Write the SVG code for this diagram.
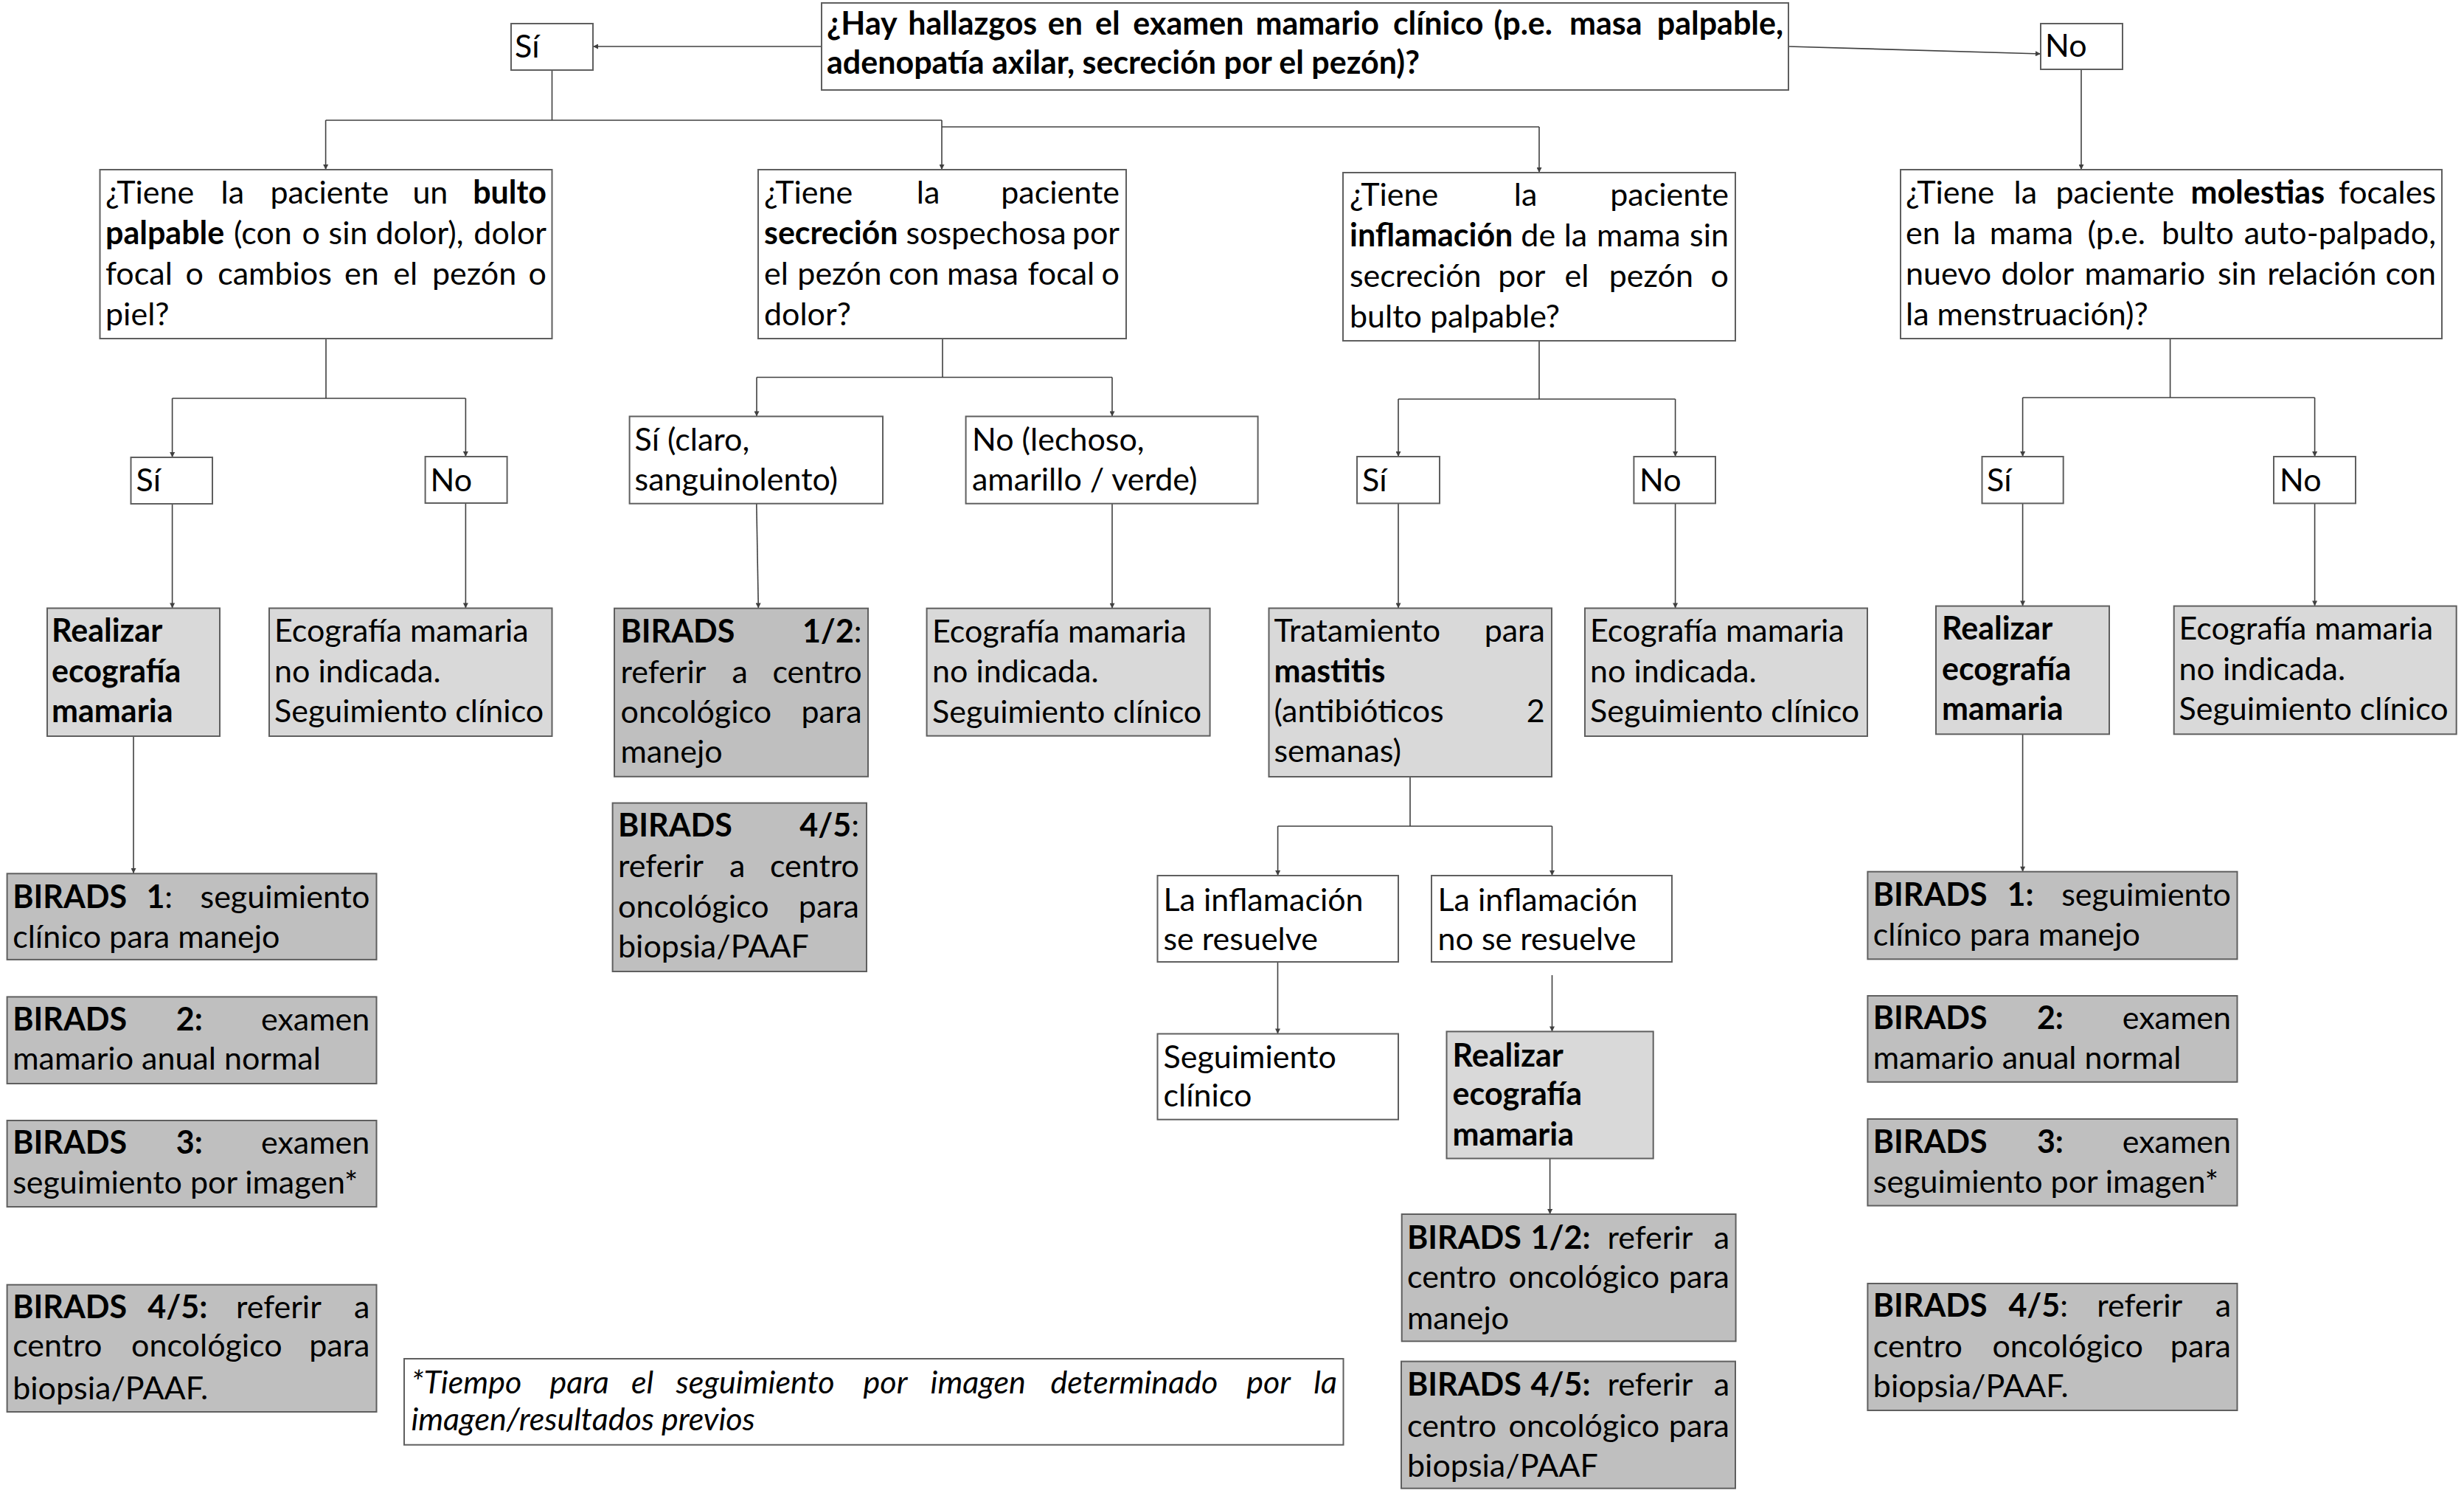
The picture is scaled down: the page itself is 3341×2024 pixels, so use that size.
<svg xmlns="http://www.w3.org/2000/svg" width="3341" height="2024" viewBox="0 0 3341 2024">
<defs>
<style>
text{font-family:Lato,"Liberation Sans",sans-serif;font-size:43px;fill:#000}
.b{font-weight:bold}
.it{font-style:italic}
.e{text-anchor:end}
rect.n{stroke:#5f5f5f;stroke-width:2}
.w{fill:#fff}.l{fill:#d9d9d9}.d{fill:#bfbfbf}
#connectors path{stroke:#404040;stroke-width:1.6;fill:none}
</style>
<marker id="ah" viewBox="0 0 10 10" refX="10" refY="5" markerWidth="8" markerHeight="7" markerUnits="userSpaceOnUse" orient="auto"><path d="M0,0 L10,5 L0,10 z" fill="#404040"/></marker>
</defs>
<rect width="3341" height="2024" fill="#fff"/>

<g id="connectors">
<path d="M1114,63 L804,63" marker-end="url(#ah)"/>
<path d="M2425,63 L2767,73" marker-end="url(#ah)"/>
<path d="M748.5,95 V163 M441.6,163 H1277"/>
<path d="M441.6,163 V230" marker-end="url(#ah)"/>
<path d="M1277,163 V230" marker-end="url(#ah)"/>
<path d="M1277,172 H2087"/>
<path d="M2087,172 V234" marker-end="url(#ah)"/>
<path d="M2822,94 V230" marker-end="url(#ah)"/>
<path d="M442,459 V540 M233.6,540 H631.4"/>
<path d="M233.6,540 V620" marker-end="url(#ah)"/>
<path d="M631.4,540 V619" marker-end="url(#ah)"/>
<path d="M233.6,683 V824.5" marker-end="url(#ah)"/>
<path d="M631.4,682 V824.5" marker-end="url(#ah)"/>
<path d="M181,998 V1184" marker-end="url(#ah)"/>
<path d="M1278,459 V511.5 M1026,511.5 H1508"/>
<path d="M1026,511.5 V564.5" marker-end="url(#ah)"/>
<path d="M1508,511.5 V564.5" marker-end="url(#ah)"/>
<path d="M1025.8,682.7 L1028.3,824.5" marker-end="url(#ah)"/>
<path d="M1508,682.7 V824.7" marker-end="url(#ah)"/>
<path d="M2087,462 V541 M1896,541 H2271.6"/>
<path d="M1896,541 V619" marker-end="url(#ah)"/>
<path d="M2271.6,541 V619" marker-end="url(#ah)"/>
<path d="M1896,682.4 V824.5" marker-end="url(#ah)"/>
<path d="M2271.6,682.4 V824.5" marker-end="url(#ah)"/>
<path d="M1912,1053 V1120 M1732.6,1120 H2104.5"/>
<path d="M1732.6,1120 V1187" marker-end="url(#ah)"/>
<path d="M2104.5,1120 V1187" marker-end="url(#ah)"/>
<path d="M1732.5,1304 V1401.5" marker-end="url(#ah)"/>
<path d="M2104.5,1322 V1398.4" marker-end="url(#ah)"/>
<path d="M2101.6,1570.5 V1646" marker-end="url(#ah)"/>
<path d="M2942.6,459 V539 M2742.6,539 H3138.6"/>
<path d="M2742.6,539 V619" marker-end="url(#ah)"/>
<path d="M3138.6,539 V619" marker-end="url(#ah)"/>
<path d="M2742.6,682.4 V821.6" marker-end="url(#ah)"/>
<path d="M3138.6,682.4 V821.6" marker-end="url(#ah)"/>
<path d="M2742.6,995.3 V1181.7" marker-end="url(#ah)"/>
</g>

<g id="q-main">
<rect class="n w" x="1114" y="4" width="1311" height="118"/>
<text class="b" y="47"><tspan x="1121">¿Hay</tspan><tspan x="1231.3">hallazgos</tspan><tspan x="1420.8">en</tspan><tspan x="1485.1">el</tspan><tspan x="1536.3">examen</tspan><tspan x="1702.5">mamario</tspan><tspan x="1888.9">clínico</tspan><tspan x="2025.6">(p.e.</tspan><tspan x="2128">masa</tspan></text>
<text class="b e" x="2418" y="47">palpable,</text>
<text class="b" x="1121" y="100">adenopatía axilar, secreción por el pezón)?</text>
</g>

<g id="yes-top">
<rect class="n w" x="693" y="32" width="111" height="63"/>
<text x="698" y="78">Sí</text>
</g>
<g id="no-top">
<rect class="n w" x="2767" y="32" width="111" height="62"/>
<text x="2773" y="77">No</text>
</g>

<g id="q-bulto">
<rect class="n w" x="135.5" y="230" width="613" height="229"/>
<text y="276"><tspan x="143">¿Tiene</tspan><tspan x="299.5">la</tspan><tspan x="366.4">paciente</tspan><tspan x="559.4">un</tspan></text>
<text class="b e" x="741" y="276">bulto</text>
<text y="331"><tspan x="143" class="b">palpable</tspan><tspan x="317.1">(con</tspan><tspan x="409.5">o</tspan><tspan x="445.6">sin</tspan><tspan x="509.5">dolor),</tspan></text>
<text class="e" x="741" y="331">dolor</text>
<text y="386"><tspan x="143">focal</tspan><tspan x="251.4">o</tspan><tspan x="295.2">cambios</tspan><tspan x="467.1">en</tspan><tspan x="533.2">el</tspan><tspan x="586">pezón</tspan></text>
<text class="e" x="741" y="386">o</text>
<text x="143" y="441">piel?</text>
</g>

<g id="q-secrecion">
<rect class="n w" x="1028" y="230" width="499" height="229"/>
<text y="276"><tspan x="1036">¿Tiene</tspan><tspan x="1242.8">la</tspan></text>
<text class="e" x="1518" y="276">paciente</text>
<text y="331"><tspan x="1036" class="b">secreción</tspan><tspan x="1228.4">sospechosa</tspan></text>
<text class="e" x="1518" y="331">por</text>
<text y="386"><tspan x="1036">el</tspan><tspan x="1081.3">pezón</tspan><tspan x="1205.1">con</tspan><tspan x="1284.1">masa</tspan><tspan x="1393.4">focal</tspan></text>
<text class="e" x="1518" y="386">o</text>
<text x="1036" y="441">dolor?</text>
</g>

<g id="q-inflamacion">
<rect class="n w" x="1821" y="234" width="532" height="228"/>
<text y="279"><tspan x="1830">¿Tiene</tspan><tspan x="2052.8">la</tspan></text>
<text class="e" x="2344" y="279">paciente</text>
<text y="334"><tspan x="1830" class="b">inflamación</tspan><tspan x="2062.3">de</tspan><tspan x="2120.7">la</tspan><tspan x="2165.1">mama</tspan></text>
<text class="e" x="2344" y="334">sin</text>
<text y="389"><tspan x="1830">secreción</tspan><tspan x="2031.2">por</tspan><tspan x="2121.6">el</tspan><tspan x="2181.7">pezón</tspan></text>
<text class="e" x="2344" y="389">o</text>
<text x="1830" y="444">bulto palpable?</text>
</g>

<g id="q-molestias">
<rect class="n w" x="2577" y="230" width="734" height="229"/>
<text y="276"><tspan x="2584">¿Tiene</tspan><tspan x="2730.5">la</tspan><tspan x="2787.4">paciente</tspan><tspan x="2970.4" class="b">molestias</tspan></text>
<text class="e" x="3303" y="276">focales</text>
<text y="331"><tspan x="2584">en</tspan><tspan x="2647.9">la</tspan><tspan x="2697.7">mama</tspan><tspan x="2830.6">(p.e.</tspan><tspan x="2930.9">bulto</tspan></text>
<text class="e" x="3303" y="331">auto-palpado,</text>
<text y="386"><tspan x="2584">nuevo</tspan><tspan x="2713.5">dolor</tspan><tspan x="2826.4">mamario</tspan><tspan x="3006.9">sin</tspan><tspan x="3074.2">relación</tspan></text>
<text class="e" x="3303" y="386">con</text>
<text x="2584" y="441">la menstruación)?</text>
</g>

<g id="yes-bulto"><rect class="n w" x="177.5" y="620" width="110.5" height="63"/><text x="184.5" y="666">Sí</text></g>
<g id="no-bulto"><rect class="n w" x="576.6" y="619" width="111" height="63"/><text x="583.6" y="666">No</text></g>
<g id="yes-secrecion"><rect class="n w" x="853.6" y="564.5" width="343.4" height="118.2"/><text x="860.6" y="611">Sí (claro,</text><text x="860.6" y="665">sanguinolento)</text></g>
<g id="no-secrecion"><rect class="n w" x="1309.6" y="564.5" width="396" height="118.2"/><text x="1318" y="611">No (lechoso,</text><text x="1318" y="665">amarillo / verde)</text></g>
<g id="yes-inflamacion"><rect class="n w" x="1840" y="619" width="112" height="63.4"/><text x="1847" y="666">Sí</text></g>
<g id="no-inflamacion"><rect class="n w" x="2215.4" y="619" width="110.6" height="63.4"/><text x="2223" y="666">No</text></g>
<g id="yes-molestias"><rect class="n w" x="2687.5" y="619" width="110.2" height="63.4"/><text x="2694" y="666">Sí</text></g>
<g id="no-molestias"><rect class="n w" x="3083" y="619" width="111" height="63.4"/><text x="3091" y="666">No</text></g>

<g id="eco-bulto">
<rect class="n l" x="64" y="824.5" width="234" height="173.5"/>
<text class="b" x="70" y="870">Realizar</text><text class="b" x="70" y="924.5">ecografía</text><text class="b" x="70" y="979">mamaria</text>
</g>
<g id="noeco-bulto">
<rect class="n l" x="365" y="824.5" width="383.5" height="173.5"/>
<text x="372" y="870">Ecografía mamaria</text><text x="372" y="924.5">no indicada.</text><text x="372" y="979">Seguimiento clínico</text>
</g>
<g id="birads12-secrecion">
<rect class="n d" x="833" y="824.7" width="344" height="228.1"/>
<text class="b" x="841.5" y="871">BIRADS</text><text class="e" x="1168.6" y="871"><tspan class="b">1/2</tspan>:</text>
<text y="925.5"><tspan x="841.5">referir</tspan><tspan x="992.5">a</tspan></text><text class="e" x="1168.6" y="925.5">centro</text>
<text x="841.5" y="980">oncológico</text><text class="e" x="1168.6" y="980">para</text>
<text x="841.5" y="1034">manejo</text>
</g>
<g id="birads45-secrecion">
<rect class="n d" x="830.6" y="1088.6" width="344.4" height="228.4"/>
<text class="b" x="838" y="1134">BIRADS</text><text class="e" x="1165" y="1134"><tspan class="b">4/5</tspan>:</text>
<text y="1188.5"><tspan x="838">referir</tspan><tspan x="989">a</tspan></text><text class="e" x="1165" y="1188.5">centro</text>
<text x="838" y="1243.5">oncológico</text><text class="e" x="1165" y="1243.5">para</text>
<text x="838" y="1298">biopsia/PAAF</text>
</g>
<g id="noeco-secrecion">
<rect class="n l" x="1256.6" y="824.7" width="384" height="172.9"/>
<text x="1264" y="871">Ecografía mamaria</text><text x="1264" y="925">no indicada.</text><text x="1264" y="980">Seguimiento clínico</text>
</g>
<g id="mastitis">
<rect class="n l" x="1720.5" y="824.5" width="383.5" height="228.5"/>
<text x="1727.4" y="870">Tratamiento</text><text class="e" x="2094.8" y="870">para</text>
<text class="b" x="1727.4" y="924.5">mastitis</text>
<text x="1727.4" y="979">(antibióticos</text><text class="e" x="2094.8" y="979">2</text>
<text x="1727.4" y="1033">semanas)</text>
</g>
<g id="noeco-inflamacion">
<rect class="n l" x="2149" y="824.5" width="383" height="173.5"/>
<text x="2156" y="870">Ecografía mamaria</text><text x="2156" y="924.5">no indicada.</text><text x="2156" y="979">Seguimiento clínico</text>
</g>
<g id="eco-molestias">
<rect class="n l" x="2625" y="821.6" width="235" height="173.7"/>
<text class="b" x="2633" y="867">Realizar</text><text class="b" x="2633" y="921.5">ecografía</text><text class="b" x="2633" y="975.5">mamaria</text>
</g>
<g id="noeco-molestias">
<rect class="n l" x="2947.7" y="821.6" width="383" height="173.7"/>
<text x="2954.5" y="867">Ecografía mamaria</text><text x="2954.5" y="921.5">no indicada.</text><text x="2954.5" y="975.5">Seguimiento clínico</text>
</g>

<g id="birads1-left">
<rect class="n d" x="9.6" y="1184.3" width="500.9" height="116.6"/>
<text class="b" x="17.2" y="1230.8">BIRADS</text><text x="198.4" y="1230.8"><tspan class="b">1</tspan>:</text><text class="e" x="501.3" y="1230.8">seguimiento</text>
<text x="17.2" y="1285.4">clínico para manejo</text>
</g>
<g id="birads2-left">
<rect class="n d" x="9.6" y="1351.4" width="500.9" height="117.6"/>
<text class="b" x="17.2" y="1397.3">BIRADS</text><text class="b" x="238.7" y="1397.3">2:</text><text class="e" x="501.3" y="1397.3">examen</text>
<text x="17.2" y="1450">mamario anual normal</text>
</g>
<g id="birads3-left">
<rect class="n d" x="9.6" y="1519" width="500.9" height="117"/>
<text class="b" x="17.2" y="1563.8">BIRADS</text><text class="b" x="238.7" y="1563.8">3:</text><text class="e" x="501.3" y="1563.8">examen</text>
<text x="17.2" y="1618.3">seguimiento por imagen*</text>
</g>
<g id="birads45-left">
<rect class="n d" x="9.6" y="1741.7" width="500.9" height="172.3"/>
<text class="b" x="17.2" y="1786.5">BIRADS</text><text class="b" x="200.3" y="1786.5">4/5:</text><text x="319.9" y="1786.5">referir</text><text class="e" x="501.3" y="1786.5">a</text>
<text x="17.2" y="1839.3">centro</text><text x="178.1" y="1839.3">oncológico</text><text class="e" x="501.3" y="1839.3">para</text>
<text x="17.2" y="1896.7">biopsia/PAAF.</text>
</g>

<g id="resuelve">
<rect class="n w" x="1569.5" y="1187" width="326.5" height="117"/>
<text x="1577.5" y="1234.5">La inflamación</text><text x="1577.5" y="1288">se resuelve</text>
</g>
<g id="no-resuelve">
<rect class="n w" x="1941" y="1187" width="326" height="117"/>
<text x="1949.5" y="1234.5">La inflamación</text><text x="1949.5" y="1288">no se resuelve</text>
</g>
<g id="seguimiento">
<rect class="n w" x="1569.5" y="1401.5" width="326.5" height="116.2"/>
<text x="1577.5" y="1447.5">Seguimiento</text><text x="1577.5" y="1500">clínico</text>
</g>
<g id="eco-inflamacion">
<rect class="n l" x="1961.5" y="1398.4" width="280.2" height="172.1"/>
<text class="b" x="1969.6" y="1445.6">Realizar</text><text class="b" x="1969.6" y="1498.4">ecografía</text><text class="b" x="1969.6" y="1553">mamaria</text>
</g>
<g id="birads12-inflamacion">
<rect class="n d" x="1900.7" y="1646" width="452.9" height="172.3"/>
<text class="b" x="1908" y="1693">BIRADS</text><text class="b" x="2075.5" y="1693">1/2:</text><text x="2179.5" y="1693">referir</text><text class="e" x="2345" y="1693">a</text>
<text x="1908" y="1745.6">centro</text><text x="2045.5" y="1745.6">oncológico</text><text class="e" x="2345" y="1745.6">para</text>
<text x="1908" y="1801.5">manejo</text>
</g>
<g id="birads45-inflamacion">
<rect class="n d" x="1900" y="1845.6" width="453" height="172.1"/>
<text class="b" x="1908" y="1891.6">BIRADS</text><text class="b" x="2075.5" y="1891.6">4/5:</text><text x="2179.5" y="1891.6">referir</text><text class="e" x="2345" y="1891.6">a</text>
<text x="1908" y="1947.5">centro</text><text x="2045.5" y="1947.5">oncológico</text><text class="e" x="2345" y="1947.5">para</text>
<text x="1908" y="2001.6">biopsia/PAAF</text>
</g>

<g id="footnote">
<rect class="n w" x="548" y="1842" width="1273.5" height="116.7"/>
<text class="it" y="1888.5"><tspan x="557.4">*Tiempo</tspan><tspan x="745.6">para</tspan><tspan x="855.9">el</tspan><tspan x="916.5">seguimiento</tspan><tspan x="1170.6">por</tspan><tspan x="1261.5">imagen</tspan><tspan x="1424.4">determinado</tspan><tspan x="1690.3">por</tspan></text>
<text class="it e" x="1813" y="1888.5">la</text>
<text class="it" x="557.4" y="1939.4">imagen/resultados previos</text>
</g>

<g id="birads1-right">
<rect class="n d" x="2532.4" y="1181.7" width="501.1" height="118.6"/>
<text class="b" x="2539.8" y="1227.6">BIRADS</text><text class="b" x="2721.5" y="1227.6">1:</text><text class="e" x="3025" y="1227.6">seguimiento</text>
<text x="2539.8" y="1282.3">clínico para manejo</text>
</g>
<g id="birads2-right">
<rect class="n d" x="2532.4" y="1350" width="501.1" height="116.8"/>
<text class="b" x="2539.8" y="1395.3">BIRADS</text><text class="b" x="2761.9" y="1395.3">2:</text><text class="e" x="3025" y="1395.3">examen</text>
<text x="2539.8" y="1448.8">mamario anual normal</text>
</g>
<g id="birads3-right">
<rect class="n d" x="2532.4" y="1517" width="501.1" height="117.5"/>
<text class="b" x="2539.8" y="1563">BIRADS</text><text class="b" x="2761.9" y="1563">3:</text><text class="e" x="3025" y="1563">examen</text>
<text x="2539.8" y="1616.5">seguimiento por imagen*</text>
</g>
<g id="birads45-right">
<rect class="n d" x="2532.4" y="1740" width="501.1" height="172"/>
<text class="b" x="2539.8" y="1785.4">BIRADS</text><text x="2723.4" y="1785.4"><tspan class="b">4/5</tspan>:</text><text x="2843.2" y="1785.4">referir</text><text class="e" x="3025" y="1785.4">a</text>
<text x="2539.8" y="1840">centro</text><text x="2701.4" y="1840">oncológico</text><text class="e" x="3025" y="1840">para</text>
<text x="2539.8" y="1894">biopsia/PAAF.</text>
</g>
</svg>
